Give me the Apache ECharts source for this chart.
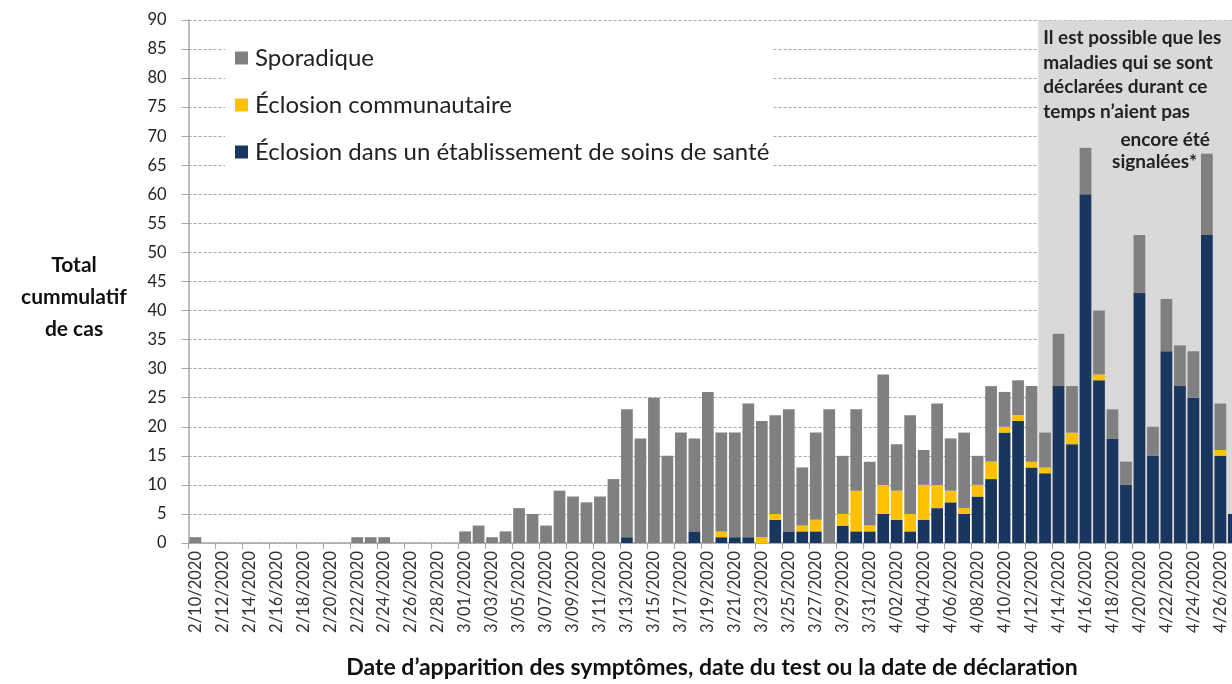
<!DOCTYPE html>
<html>
<head>
<meta charset="utf-8">
<script src="https://cdn.jsdelivr.net/npm/echarts@6/dist/echarts.min.js"></script>
<style>html,body{margin:0;padding:0;background:#fff;}#c{width:1232px;height:684px;}</style>
</head>
<body>
<div id="c"></div>
<script>
const dates = ["2/10/2020","2/11/2020","2/12/2020","2/13/2020","2/14/2020","2/15/2020","2/16/2020","2/17/2020","2/18/2020","2/19/2020",
"2/20/2020","2/21/2020","2/22/2020","2/23/2020","2/24/2020","2/25/2020","2/26/2020","2/27/2020","2/28/2020","2/29/2020",
"3/01/2020","3/02/2020","3/03/2020","3/04/2020","3/05/2020","3/06/2020","3/07/2020","3/08/2020","3/09/2020","3/10/2020",
"3/11/2020","3/12/2020","3/13/2020","3/14/2020","3/15/2020","3/16/2020","3/17/2020","3/18/2020","3/19/2020","3/20/2020",
"3/21/2020","3/22/2020","3/23/2020","3/24/2020","3/25/2020","3/26/2020","3/27/2020","3/28/2020","3/29/2020","3/30/2020",
"3/31/2020","4/01/2020","4/02/2020","4/03/2020","4/04/2020","4/05/2020","4/06/2020","4/07/2020","4/08/2020","4/09/2020",
"4/10/2020","4/11/2020","4/12/2020","4/13/2020","4/14/2020","4/15/2020","4/16/2020","4/17/2020","4/18/2020","4/19/2020",
"4/20/2020","4/21/2020","4/22/2020","4/23/2020","4/24/2020","4/25/2020","4/26/2020","4/27/2020"];

// Éclosion dans un établissement de soins de santé
const healthcare = [0,0,0,0,0,0,0,0,0,0, 0,0,0,0,0,0,0,0,0,0,
  0,0,0,0,0,0,0,0,0,0, 0,0,1,0,0,0,0,2,0,1,
  1,1,0,4,2,2,2,0,3,2, 2,5,4,2,4,6,7,5,8,11,
  19,21,13,12,27,17,60,28,18,10, 43,15,33,27,25,53,15,5];
// Éclosion communautaire
const community = [0,0,0,0,0,0,0,0,0,0, 0,0,0,0,0,0,0,0,0,0,
  0,0,0,0,0,0,0,0,0,0, 0,0,0,0,0,0,0,0,0,1,
  0,0,1,1,0,1,2,0,2,7, 1,5,5,3,6,4,2,1,2,3,
  1,1,1,1,0,2,0,1,0,0, 0,0,0,0,0,0,1,0];
// Sporadique
const sporadic = [1,0,0,0,0,0,0,0,0,0, 0,0,1,1,1,0,0,0,0,0,
  2,3,1,2,6,5,3,9,8,7, 8,11,22,18,25,15,19,16,26,17,
  18,23,20,17,21,10,15,23,10,14, 11,19,8,17,6,14,9,13,5,13,
  6,6,13,6,9,8,8,11,5,4, 10,5,9,7,8,14,8,0];

const yTicks = {min: 0, max: 90, interval: 5};
const shadeStart = "4/13/2020";

const seriesNames = ["Sporadique", "Éclosion communautaire", "Éclosion dans un établissement de soins de santé"];
const FONT = "Lato, 'Noto Sans', sans-serif";

const chart = echarts.init(document.getElementById('c'), null, {renderer: 'canvas'});

const option = {
  animation: false,
  backgroundColor: '#ffffff',
  grid: {left: 188.6, width: 1052, top: 20, bottom: 141, containLabel: false, outerBoundsMode: 'none'},
  legend: {
    orient: 'vertical',
    left: 225, top: 36,
    padding: [10, 4, 18, 10],
    backgroundColor: '#ffffff',
    itemWidth: 13, itemHeight: 13,
    itemGap: 23,
    icon: 'rect',
    data: seriesNames,
    textStyle: {fontFamily: FONT, fontSize: 24, color: '#222', lineHeight: 24, padding: [0,0,0,2]}
  },
  xAxis: {
    type: 'category',
    data: dates,
    boundaryGap: true,
    axisLine: {show: true, lineStyle: {color: '#a6a6a6', width: 1.5}},
    axisTick: {show: true, interval: 1, length: 6, lineStyle: {color: '#a6a6a6'}},
    axisLabel: {interval: 1, rotate: 90, margin: 8, fontFamily: FONT, fontSize: 16.5, color: '#333'}
  },
  yAxis: {
    type: 'value',
    min: yTicks.min, max: yTicks.max, interval: yTicks.interval,
    axisLine: {show: true, lineStyle: {color: '#a6a6a6', width: 1.5}},
    axisTick: {show: true, length: 7, lineStyle: {color: '#a6a6a6'}},
    axisLabel: {margin: 22, fontFamily: FONT, fontSize: 16.5, color: '#222'},
    splitLine: {show: true, lineStyle: {color: '#a6a6a6', type: [3, 2], width: 1}}
  },
  series: [
    {name: seriesNames[2], type: 'bar', stack: 'a', data: healthcare, barCategoryGap: '13%', itemStyle: {color: '#18365e'}},
    {name: seriesNames[1], type: 'bar', stack: 'a', data: community, itemStyle: {color: '#ffc000'}},
    {name: seriesNames[0], type: 'bar', stack: 'a', data: sporadic, itemStyle: {color: '#808080'}}
  ]
};
chart.setOption(option);

const xa = chart.convertToPixel({xAxisIndex: 0}, shadeStart);
const xb = chart.convertToPixel({xAxisIndex: 0}, dates[dates.indexOf(shadeStart) + 1]);
const band = xb - xa;
const x0 = xa - band / 2;
const yTop = chart.convertToPixel({yAxisIndex: 0}, yTicks.max);
const yBot = chart.convertToPixel({yAxisIndex: 0}, 0);

const noteLines = ["Il est possible que les", "maladies qui se sont", "déclarées durant ce", "temps n’aient pas"];
const boldFont = "bold 19px " + FONT;
const graphics = [
  {type: 'rect', z: 1, silent: true, shape: {x: x0, y: yTop + 0.5, width: 1300 - x0, height: yBot - yTop - 1}, style: {fill: '#d9d9d9'}}
];
noteLines.forEach((t, i) => {
  graphics.push({type: 'text', z: 10, x: x0 + 5, y: 38 + i * 24.5, style: {text: t, font: boldFont, fill: '#222', textAlign: 'left', textVerticalAlign: 'middle'}});
});
graphics.push({type: 'text', z: 10, x: 1210, y: 140, style: {text: "encore été", font: boldFont, fill: '#222', textAlign: 'right', textVerticalAlign: 'middle'}});
graphics.push({type: 'text', z: 10, x: 1197, y: 162, style: {text: "signalées*", font: boldFont, fill: '#222', textAlign: 'right', textVerticalAlign: 'middle'}});
graphics.push({type: 'text', z: 10, x: 74, y: 297, style: {text: "Total\ncummulatif\nde cas", font: "bold 21px " + FONT, fill: '#111', textAlign: 'center', textVerticalAlign: 'middle', lineHeight: 32}});
graphics.push({type: 'text', z: 10, x: 712, y: 668, style: {text: "Date d’apparition des symptômes, date du test ou la date de déclaration", font: "bold 23px " + FONT, fill: '#111', textAlign: 'center', textVerticalAlign: 'middle'}});

chart.setOption({graphic: graphics});
</script>
</body>
</html>
